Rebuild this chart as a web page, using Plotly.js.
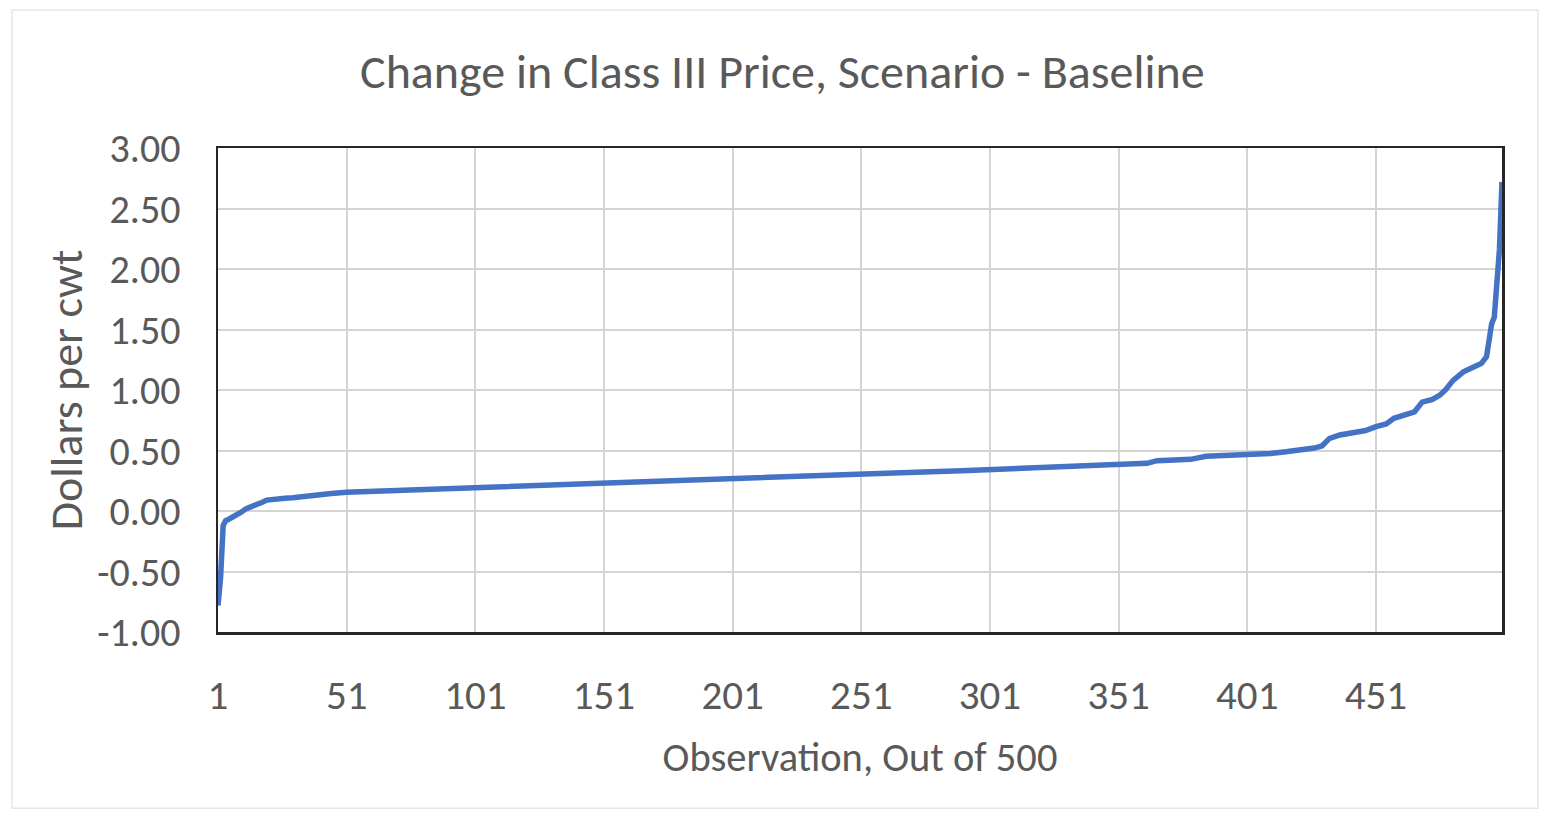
<!DOCTYPE html>
<html>
<head>
<meta charset="utf-8">
<script src="https://cdn.plot.ly/plotly-3.0.1.min.js"></script>
<style>
html,body{margin:0;padding:0;background:#fff;}
#chart{width:1543px;height:814px;}
</style>
</head>
<body>
<div id="chart"></div>
<script>
// Observation number (sorted order, out of 500)
const observations = [1, 2, 3, 4, 5, 6, 8, 10, 12, 15, 18, 20, 23, 27, 30, 35, 40, 45, 51, 60,
  69, 75, 82, 90, 101, 110, 118, 125, 135, 151, 160, 170, 177, 190, 202, 215, 226, 240, 251, 265,
  278, 290, 303, 315, 327, 340, 351, 362, 366, 372, 379, 385, 393, 401, 410, 416, 422, 427, 430, 433,
  437, 443, 447, 451, 455, 458, 463, 466, 469, 473, 476, 478, 481, 485, 489, 492, 494, 495, 496, 497,
  498, 499, 500];
// Change in Class III price, dollars per cwt
const priceChange = [-0.78, -0.55, -0.12, -0.08, -0.07, -0.06, -0.03, -0.01, 0.02, 0.04, 0.07, 0.09, 0.10, 0.105, 0.11, 0.125, 0.14, 0.145, 0.155, 0.162,
  0.168, 0.172, 0.18, 0.186, 0.195, 0.205, 0.21, 0.215, 0.222, 0.234, 0.24, 0.245, 0.25, 0.26, 0.268, 0.28, 0.289, 0.296, 0.306, 0.315,
  0.325, 0.333, 0.343, 0.35, 0.36, 0.372, 0.386, 0.394, 0.416, 0.42, 0.427, 0.452, 0.458, 0.466, 0.475, 0.49, 0.504, 0.52, 0.537, 0.60,
  0.628, 0.655, 0.665, 0.697, 0.72, 0.766, 0.793, 0.82, 0.90, 0.923, 0.96, 1.0, 1.08, 1.15, 1.19, 1.22, 1.275, 1.44, 1.55, 1.60,
  1.83, 2.16, 2.72];
const xTickVals = [1, 51, 101, 151, 201, 251, 301, 351, 401, 451];
const yTickVals = [-1, -0.5, 0, 0.5, 1, 1.5, 2, 2.5, 3];

const FONT = 'Carlito, Lato, "Open Sans", sans-serif';
const TXT = '#595959';

const trace = {
  x: observations,
  y: priceChange,
  type: 'scatter',
  mode: 'lines',
  line: {color: '#4472C4', width: 5.5},
  hoverinfo: 'x+y'
};

const layout = {
  width: 1543,
  height: 814,
  margin: {l: 218, r: 41, t: 148, b: 182},
  paper_bgcolor: '#ffffff',
  plot_bgcolor: '#ffffff',
  showlegend: false,
  font: {family: FONT, color: TXT},
  title: {
    text: 'Change in Class III Price, Scenario - Baseline',
    font: {family: FONT, size: 48, color: TXT},
    x: 0.507, xref: 'container', xanchor: 'center',
    y: 0.913, yref: 'container', yanchor: 'middle'
  },
  xaxis: {
    range: [1, 500],
    tickmode: 'array',
    tickvals: xTickVals,
    ticktext: xTickVals.map(String),
    showgrid: true,
    gridcolor: '#d4d4d4',
    gridwidth: 2,
    zeroline: false,
    showline: true,
    linecolor: '#262626',
    linewidth: 2.5,
    mirror: true,
    ticks: '',
    ticklabelstandoff: 25,
    tickfont: {family: FONT, size: 41, color: TXT},
    title: {
      text: 'Observation, Out of 500',
      font: {family: FONT, size: 40.5, color: TXT},
      standoff: 24
    },
    automargin: false
  },
  yaxis: {
    range: [-1, 3],
    tickmode: 'array',
    tickvals: yTickVals,
    ticktext: yTickVals.map(v => v.toFixed(2)),
    showgrid: true,
    gridcolor: '#d4d4d4',
    gridwidth: 2,
    zeroline: false,
    showline: true,
    linecolor: '#262626',
    linewidth: 2.5,
    mirror: true,
    ticks: '',
    ticklabelstandoff: 27,
    tickfont: {family: FONT, size: 40, color: TXT},
    title: {
      text: 'Dollars per cwt',
      font: {family: FONT, size: 46, color: TXT},
      standoff: 0
    },
    automargin: false
  },
  shapes: [{
    type: 'rect', xref: 'paper', yref: 'paper',
    x0: -0.1604, x1: 1.028, y0: -0.364, y1: 1.285,
    line: {color: '#e6e6e6', width: 1.5},
    fillcolor: 'rgba(0,0,0,0)',
    layer: 'below'
  }]
};

Plotly.newPlot('chart', [trace], layout, {displayModeBar: false, staticPlot: true});
</script>
</body>
</html>
